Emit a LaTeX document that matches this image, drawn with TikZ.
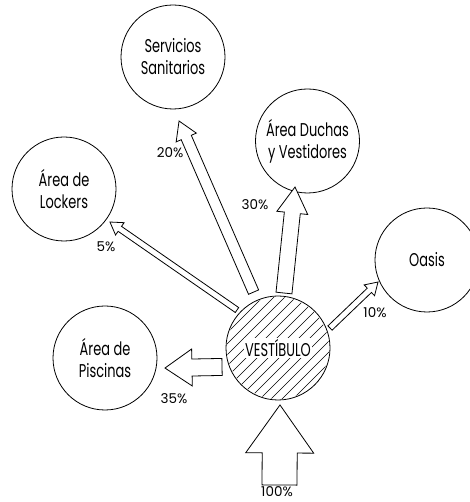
\documentclass[tikz,border=0pt]{standalone}
\usepackage{fontspec}
\setmainfont{Poppins}[FakeStretch=0.7]
\newfontfamily\etiqueta{Poppins}
\usepackage{tikz}
\usetikzlibrary{calc}
\tikzset{
  sala/.style={draw=black,circle,line width=0.8pt,minimum size=104pt,inner sep=0pt,
    align=center,font=\fontsize{18.5}{22}\selectfont},
  nucleo/.style={draw=black,circle,line width=0.8pt,minimum size=104pt,inner sep=0pt},
  flujo/.style={draw=black,line width=0.8pt,fill=white,line join=miter},
  trama/.style={draw=black,line width=0.7pt},
  porcentaje/.style={font=\etiqueta\fontsize{13.5}{15}\selectfont,inner sep=1pt}
}
% flecha de bloque: cola, punta, medio ancho, medio ancho de punta, largo de punta
\newcommand{\flecha}[5]{%
  \coordinate (base) at ($(#2)!#5!(#1)$);
  \draw[flujo] ($(#1)!#3!90:(#2)$) -- ($(base)!#3!90:(#2)$) -- ($(base)!#4!90:(#2)$)
    -- (#2) -- ($(base)!#4!-90:(#2)$) -- ($(base)!#3!-90:(#2)$) -- ($(#1)!#3!-90:(#2)$) -- cycle;
}
\begin{document}
\begin{tikzpicture}[x=1pt,y=1pt]
  \useasboundingbox (0,0) rectangle (469,502);
  % recintos
  \node[nucleo] (vest) at (278,154) {};
  \node[sala] (san) at (173,445) {Servicios\\Sanitarios};
  \node[sala] (duc) at (307.5,361) {Área Duchas\\y Vestidores};
  \node[sala] (loc) at (64,313) {Área de\\Lockers};
  \node[sala] (oas) at (427,242) {Oasis};
  \node[sala] (pis) at (105,144) {Área de\\Piscinas};
  % rayado del vestibulo
  \begin{scope}
    \clip (vest.center) circle (51);
    \foreach \k in {-9,...,9}
      \draw[trama] ($(vest.center)+(\k*11-70,-70)$) -- ++(140,140);
  \end{scope}
  \node[fill=white,inner sep=1pt,font=\fontsize{18.5}{20}\selectfont] (vtxt) at (vest.center) {VESTÍBULO};
  % extremos de las flechas
  \coordinate (entrada) at (279.5,17);
  \coordinate (p100) at ($(vest.center)+(-88:57)$);
  \coordinate (c20) at ($(vest.center)+(113.6:61)$);
  \coordinate (p20) at ($(san.center)+(-84.6:64.3)$);
  \coordinate (c30) at ($(vest.center)+(83.8:55.3)$);
  \coordinate (p30) at ($(duc.center)+(-105.2:47.7)$);
  \coordinate (c5) at ($(vest.center)+(137.2:55.9)$);
  \coordinate (p5) at ($(loc.center)+(-35.7:56.6)$);
  \coordinate (c10) at ($(vest.center)+(21:55.7)$);
  \coordinate (p10) at ($(oas.center)+(204.2:53.7)$);
  \coordinate (c35) at ($(vest.center)+(198.7:59.1)$);
  \coordinate (p35) at ($(pis.center)+(-9.5:60.8)$);
  % flujos
  \flecha{entrada}{p100}{17.5pt}{34pt}{48pt}
  \flecha{c20}{p20}{5.5pt}{11pt}{18pt}
  \flecha{c30}{p30}{8pt}{15.5pt}{26pt}
  \flecha{c5}{p5}{3pt}{7.5pt}{12pt}
  \flecha{c10}{p10}{3pt}{7.5pt}{12pt}
  \flecha{c35}{p35}{8.5pt}{18.5pt}{27pt}
  % porcentajes
  \node[porcentaje] (l100) at (277,10) {100\%};
  \node[porcentaje] (l20) at (170,349) {20\%};
  \node[porcentaje] (l30) at (255,297) {30\%};
  \node[porcentaje] (l5) at (106,255) {5\%};
  \node[porcentaje] (l10) at (375,189) {10\%};
  \node[porcentaje] (l35) at (174,103) {35\%};
\end{tikzpicture}
\end{document}
